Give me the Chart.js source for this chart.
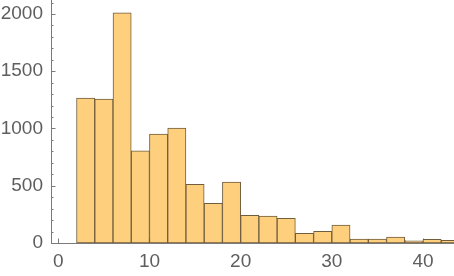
<!DOCTYPE html>
<html>
<head>
<meta charset="utf-8">
<script src="https://cdn.jsdelivr.net/npm/chart.js@4.4.1/dist/chart.umd.min.js"></script>
<style>
  html, body { margin: 0; padding: 0; background: #fff; }
  #wrap { width: 454px; height: 276px; }
</style>
</head>
<body>
<div id="wrap"><canvas id="histChart"></canvas></div>
<script>
// histogram bins (width 2), centres and counts
const binCenters = [3, 5, 7, 9, 11, 13, 15, 17, 19, 21, 23, 25, 27, 29, 31, 33, 35, 37, 39, 41, 43];
const counts = [1266, 1257, 2010, 805, 951, 1003, 513, 347, 531, 242, 234, 216, 85, 102, 157, 35, 35, 52, 20, 31, 23];
const xTicks = [0, 10, 20, 30, 40];
const yTicks = [0, 500, 1000, 1500, 2000];

const axisColor = '#7a7a7a';
const labelColor = '#5e5e5e';

// mathematica style ticks: pointing into the plot, with minor ones
const innerTicks = {
  id: 'innerTicks',
  beforeDatasetsDraw(chart) {
    const ctx = chart.ctx;
    const xs = chart.scales.x;
    const ys = chart.scales.y;
    const area = chart.chartArea;
    ctx.save();
    ctx.strokeStyle = axisColor;
    ctx.lineWidth = 1;
    ctx.beginPath();
    for (let v = 0; v <= ys.max; v += 100) {
      const y = Math.round(ys.getPixelForValue(v)) + 0.5;
      const len = v % 500 === 0 ? 4.5 : 2.5;
      ctx.moveTo(area.left, y);
      ctx.lineTo(area.left + len, y);
    }
    for (let v = 0; v <= xs.max; v += 2) {
      const x = Math.round(xs.getPixelForValue(v)) + 0.5;
      const len = v % 10 === 0 ? 4.5 : 2.5;
      ctx.moveTo(x, area.bottom);
      ctx.lineTo(x, area.bottom - len);
    }
    ctx.stroke();
    ctx.restore();
  }
};

const ctx = document.getElementById('histChart').getContext('2d');
window.histChart = new Chart(ctx, {
  type: 'bar',
  data: {
    datasets: [{
      data: binCenters.map((c, i) => ({ x: c, y: counts[i] })),
      backgroundColor: 'rgb(254, 208, 126)',
      borderColor: 'rgb(112, 93, 60)',
      borderWidth: 1,
      borderSkipped: false,
      barPercentage: 1,
      categoryPercentage: 1
    }]
  },
  options: {
    responsive: true,
    maintainAspectRatio: false,
    animation: false,
    layout: { padding: 0 },
    plugins: {
      legend: { display: false },
      tooltip: { enabled: false }
    },
    scales: {
      x: {
        type: 'linear',
        offset: false,
        min: -0.8,
        max: 43.4,
        afterBuildTicks: (scale) => { scale.ticks = xTicks.map(v => ({ value: v })); },
        afterFit: (scale) => {
          scale.height = 33;
          scale.paddingLeft = 0;
          scale.paddingRight = 0;
        },
        grid: { display: false, drawTicks: false },
        border: { display: true, color: axisColor, width: 1 },
        ticks: {
          color: labelColor,
          padding: 7,
          maxRotation: 0,
          autoSkip: false,
          callback: (v) => String(v),
          font: { family: 'Liberation Sans', size: 19 }
        }
      },
      y: {
        min: 0,
        max: 2122,
        afterBuildTicks: (scale) => { scale.ticks = yTicks.map(v => ({ value: v })); },
        afterFit: (scale) => {
          scale.width = 51;
          scale.paddingTop = 0;
          scale.paddingBottom = 0;
        },
        grid: { display: false, drawTicks: false },
        border: { display: true, color: axisColor, width: 1 },
        ticks: {
          color: labelColor,
          padding: 8,
          autoSkip: false,
          callback: (v) => String(v),
          font: { family: 'Liberation Sans', size: 19 }
        }
      }
    }
  },
  plugins: [innerTicks]
});
</script>
</body>
</html>
